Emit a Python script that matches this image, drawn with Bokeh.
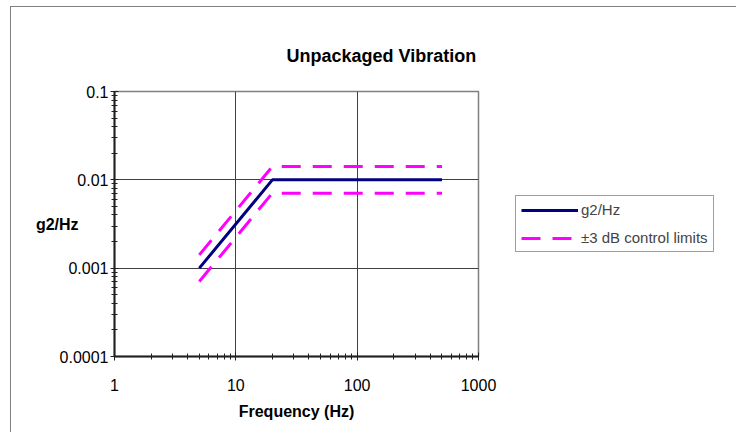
from bokeh.plotting import figure
from bokeh.models import FixedTicker, Legend, LegendItem
from bokeh.embed import file_html
from bokeh.resources import INLINE

# ---- data ----
freq = [5, 20, 500]
g2hz = [0.001, 0.01, 0.01]
upper_limit = [0.001414, 0.01414, 0.01414]
lower_limit = [0.000707, 0.00707, 0.00707]

x_ticks = [1, 10, 100, 1000]
x_tick_labels = ["1", "10", "100", "1000"]
y_ticks = [0.0001, 0.001, 0.01, 0.1]
y_tick_labels = ["0.0001", "0.001", "0.01", "0.1"]

title_text = "Unpackaged Vibration"
x_label = "Frequency (Hz)"
y_label = "g2/Hz"
series_names = ["g2/Hz", "\u00b13 dB control limits"]

FONT = "Liberation Sans"

p = figure(frame_width=364, frame_height=265, x_axis_type="log", y_axis_type="log",
           x_range=(1, 1000), y_range=(0.0001, 0.1),
           output_backend="svg", toolbar_location=None,
           min_border_left=103, min_border_right=255,
           min_border_top=84, min_border_bottom=76)
p.styles = {"margin-left": "10px", "margin-top": "6px",
            "border-top": "1px solid #808080", "border-left": "1px solid #808080"}
p.background_fill_color = "white"
p.border_fill_color = "white"
p.outline_line_color = "#808080"
p.outline_line_width = 1.5

p.title.text = title_text
p.title.align = "left"
p.title.offset = 172
p.title.text_font = FONT
p.title.text_font_size = "18px"
p.title.text_font_style = "bold"
p.title.text_color = "black"
p.title.standoff = 52

minor_x = [d * k for d in x_ticks[:-1] for k in range(2, 10)]
minor_y = [d * k for d in y_ticks[:-1] for k in range(2, 10)]
p.xaxis.ticker = FixedTicker(ticks=x_ticks, minor_ticks=minor_x)
p.yaxis.ticker = FixedTicker(ticks=y_ticks, minor_ticks=minor_y)
p.xaxis.major_label_overrides = {t: l for t, l in zip(x_ticks, x_tick_labels)}
p.yaxis.major_label_overrides = {t: l for t, l in zip(y_ticks, y_tick_labels)}

for ax in (p.xaxis, p.yaxis):
    ax.axis_line_color = "#202020"
    ax.axis_line_width = 2
    ax.major_tick_line_color = "#202020"
    ax.minor_tick_line_color = "#202020"
    ax.major_tick_in = 4
    ax.major_tick_out = 4
    ax.minor_tick_in = 3
    ax.minor_tick_out = 3
    ax.major_label_text_font = FONT
    ax.major_label_text_font_size = "16px"
    ax.major_label_text_color = "black"
    ax.axis_label_text_font = FONT
    ax.axis_label_text_font_size = "16px"
    ax.axis_label_text_font_style = "bold"
    ax.axis_label_text_color = "black"
p.yaxis.major_label_standoff = 2
p.xaxis.major_label_standoff = 18
p.xaxis.axis_label = x_label
p.xaxis.axis_label_standoff = 9
p.yaxis.axis_label = y_label
p.yaxis.axis_label_orientation = "horizontal"
p.yaxis.axis_label_standoff = -22

p.xgrid.grid_line_color = "#404040"
p.ygrid.grid_line_color = "#404040"
p.xgrid.grid_line_width = 1
p.ygrid.grid_line_width = 1

r_main = p.line(freq, g2hz, line_color="#000080", line_width=3)
r_up = p.line(freq, upper_limit, line_color="#FF00FF", line_width=3, line_dash="19 12")
r_lo = p.line(freq, lower_limit, line_color="#FF00FF", line_width=3, line_dash="19 12")

legend = Legend(items=[LegendItem(label=series_names[0], renderers=[r_main]),
                       LegendItem(label=series_names[1], renderers=[r_up])],
                location=(37, 104), orientation="vertical",
                label_text_font=FONT, label_text_font_size="15px",
                glyph_width=57, glyph_height=16, label_height=16,
                label_standoff=3, padding=5, spacing=11, margin=0,
                border_line_color="#404040", border_line_width=1,
                background_fill_color="white", background_fill_alpha=1)
p.add_layout(legend, "right")

open("out.html", "w").write(file_html(p, INLINE))
